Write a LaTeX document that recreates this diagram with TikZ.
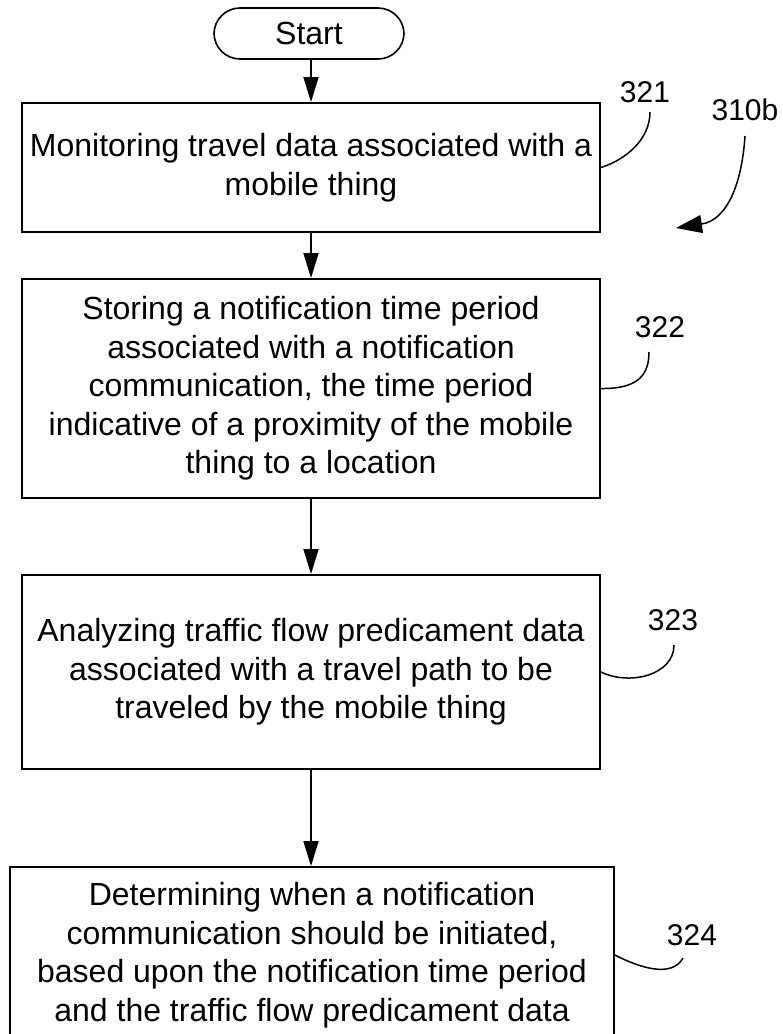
\documentclass[tikz,border=0pt]{standalone}
\usepackage{fontspec}
\setmainfont{Liberation Sans}
\usetikzlibrary{arrows.meta}
\begin{document}
\begin{tikzpicture}[x=1pt,y=-1pt,
  every node/.style={font=\fontsize{32}{38.5}\selectfont, inner sep=0pt},
  stepbox/.style={draw, line width=1.8pt, align=center, minimum width=578pt},
  termbox/.style={draw, line width=1.6pt, rounded corners=26pt, minimum width=190pt, minimum height=51pt},
  reflabel/.style={font=\fontsize{30}{34}\selectfont},
  flow/.style={line width=1.5pt, -{Triangle[length=25pt,width=15pt]}},
  leader/.style={line width=1.5pt},
]
\useasboundingbox (0,0) rectangle (783,1034);

\node[termbox] (start) at (309,33.5) {Start};

\node[stepbox, minimum height=129pt] (box1) at (311,167.5)
  {Monitoring travel data associated with a\\mobile thing};
\node[stepbox, minimum height=219pt] (box2) at (311,388.5)
  {Storing a notification time period\\associated with a notification\\communication, the time period\\indicative of a proximity of the mobile\\thing to a location};
\node[stepbox, minimum height=194pt] (box3) at (311,672)
  {Analyzing traffic flow predicament data\\associated with a travel path to be\\traveled by the mobile thing};
\node[stepbox, minimum width=604pt, minimum height=176pt] (box4) at (312,955)
  {Determining when a notification\\communication should be initiated,\\based upon the notification time period\\and the traffic flow predicament data};

\draw[flow] (start.south -| box1.north) -- (box1.north);
\draw[flow] (box1.south) -- (box2.north);
\draw[flow] (box2.south) -- (box3.north);
\draw[flow] (box3.south) -- (box3.south |- box4.north);

\node[reflabel] (l321) at (645,92) {321};
\node[reflabel] (l310b) at (745,110) {310b};
\node[reflabel] (l322) at (660,327) {322};
\node[reflabel] (l323) at (673,620) {323};
\node[reflabel] (l324) at (692,935) {324};

\coordinate (c321) at (650,112);
\coordinate (c322) at (649,352);
\coordinate (c323) at (674,645);
\coordinate (c324) at (683,958);
\coordinate (c310a) at (745,136);
\coordinate (c310b) at (676,228);

\draw[leader] (box1.east) .. controls (625,160) and (650,140) .. (c321);
\draw[leader] (box2.east) .. controls (638,389) and (649,375) .. (c322);
\draw[leader] (box3.east) .. controls (630,686) and (674,675) .. (c323);
\draw[leader] (box4.east) .. controls (640,968) and (672,978) .. (c324);
\draw[line width=1.5pt, -{Triangle[length=26pt,width=18pt]}] (c310a) .. controls (742,182) and (728,220) .. (c310b);
\end{tikzpicture}
\end{document}
